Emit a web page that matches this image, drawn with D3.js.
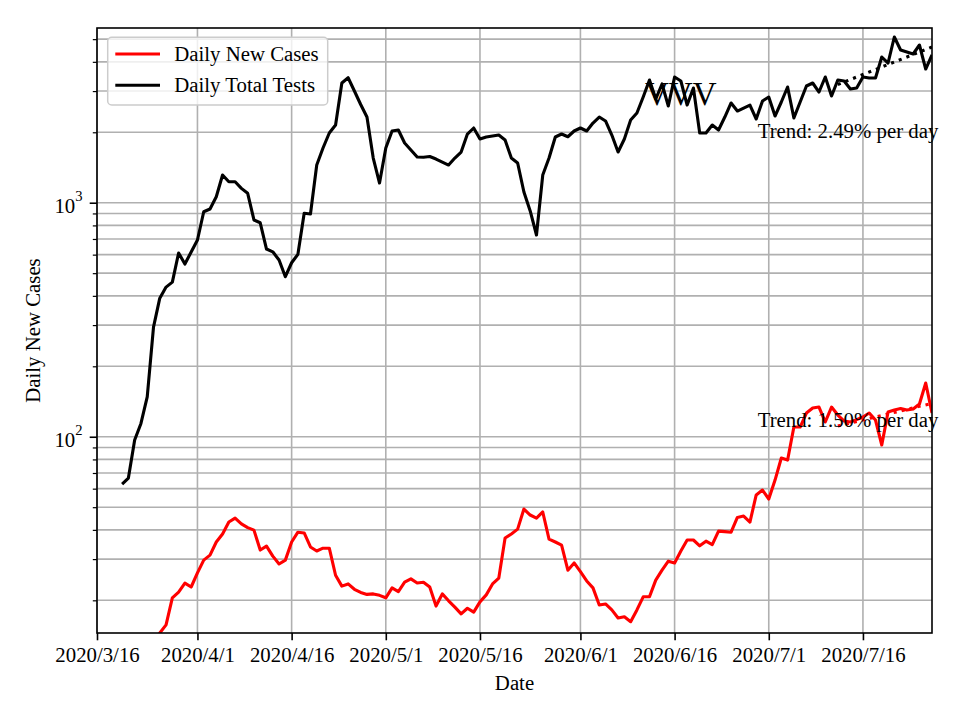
<!DOCTYPE html>
<html><head><meta charset="utf-8">
<script src="https://cdn.jsdelivr.net/npm/d3@7"></script>
<style>
body{margin:0;background:#fff}
svg{display:block}
text{font-family:"Liberation Serif","Times New Roman",Times,serif;fill:#000}
</style>
</head><body>
<svg id="chart" width="960" height="720"></svg>
<script>
// ---------- DATA ----------
const xDomain = ["2020-03-16", "2020-07-27"];
const xTickDates = ["2020-03-16","2020-04-01","2020-04-16","2020-05-01","2020-05-16","2020-06-01","2020-06-16","2020-07-01","2020-07-16"];
const xTickLabels = ["2020/3/16","2020/4/1","2020/4/16","2020/5/1","2020/5/16","2020/6/1","2020/6/16","2020/7/1","2020/7/16"];
const yDomain = [14.5, 5580];
const yMajorTicks = [100, 1000];
const yMajorBase = ["10", "10"];
const yMajorExp = ["2", "3"];
const yMinorTicks = [20,30,40,50,60,70,80,90,200,300,400,500,600,700,800,900,2000,3000,4000,5000];

const testsStart = "2020-03-20";
const dailyTests = [62.8,66.6,96.8,114,148,294,391,436,458,610,
547,616,693,915,940,1061,1313,1229,1229,1152,
1097,844,821,634,617,569,483,554,602,901,
895,1449,1713,1986,2148,3248,3421,3002,2628,2324,
1552,1214,1713,2025,2045,1799,1680,1568,1565,1575,
1537,1492,1449,1552,1647,1966,2086,1872,1909,1928,
1947,1854,1552,1478,1111,922,728,1313,1552,1909,
1966,1914,2025,2086,2025,2191,2324,2235,1947,1647,
1872,2257,2417,2829,3345,2775,3217,2590,3445,3312,
2615,3091,1986,1986,2148,2045,2324,2668,2465,2539,
2615,2279,2720,2829,2347,2694,3122,2301,2694,3153,
3248,2972,3445,2858,3345,3312,3061,3091,3445,3411,
3411,4195,3954,5107,4494,4406,4320,4720,3727,4278];

const casesStart = "2020-03-25";
const dailyCases = [12.3,
14.5,15.7,20.5,21.7,23.7,22.8,26.2,29.7,31.2,35.5,
38.4,43.2,44.9,42.4,40.9,39.9,32.8,34.1,30.9,28.6,
29.7,35.5,39.1,38.8,33.8,32.5,33.4,33.4,25.6,23.0,
23.5,22.3,21.6,21.2,21.3,21.0,20.5,22.6,21.8,23.9,
24.7,23.7,23.9,22.8,18.9,21.3,19.9,18.7,17.5,18.5,
17.8,19.7,21.1,23.5,24.9,36.9,38.4,40.3,49.1,46.3,
44.9,47.7,36.5,35.5,34.4,26.9,28.9,26.5,24.2,22.6,
19.1,19.3,18.2,16.8,17.0,16.2,18.2,20.7,20.7,24.4,
26.9,29.4,28.9,32.5,36.2,36.2,34.2,35.8,34.6,39.5,
39.3,39.1,45.2,45.8,43.2,56.4,59.2,54.2,65.3,81.1,
79.5,110,110,126.3,132.7,133.9,115.6,133.9,123.8,116.7,
115.6,118.4,121.4,126.3,117.8,92.2,127.5,130.0,132.0,130.0,
131.3,138.0,169.6,126.3];

const trendDates = ["2020-07-12", "2020-07-27"];
const trendTests = [3200, 4629];
const trendCases = [111.1, 138.9];
const trendLabels = ["Trend: 2.49% per day", "Trend: 1.50% per day"];

const seriesNames = ["Daily New Cases", "Daily Total Tests"];
const seriesColors = ["#ff0000", "#000000"];

// ---------- CHART ----------
const FS = 20.8;
const parse = d3.utcParse("%Y-%m-%d");
const L = 97, R = 932, T = 28, B = 633;
const svg = d3.select("#chart");

const x = d3.scaleUtc().domain(xDomain.map(parse)).range([L, R]);
const y = d3.scaleLog().domain(yDomain).range([B, T]);

function toSeries(start, vals) {
  const s = parse(start);
  return vals.map((v, i) => ({date: d3.utcDay.offset(s, i), v}));
}
const testsData = toSeries(testsStart, dailyTests);
const casesData = toSeries(casesStart, dailyCases);

svg.append("defs").append("clipPath").attr("id", "clip")
  .append("rect").attr("x", L).attr("y", T).attr("width", R - L).attr("height", B - T);

// grid
const grid = svg.append("g").attr("stroke", "#b0b0b0").attr("stroke-width", 1.6);
grid.selectAll("line.gx").data(xTickDates.map(parse)).join("line")
  .attr("x1", d => x(d)).attr("x2", d => x(d)).attr("y1", T).attr("y2", B);
grid.selectAll("line.gy").data(yMajorTicks.concat(yMinorTicks)).join("line")
  .attr("class", "gy")
  .attr("x1", L).attr("x2", R).attr("y1", d => y(d)).attr("y2", d => y(d));

// lines
const line = d3.line().x(d => x(d.date)).y(d => y(d.v));
const plot = svg.append("g").attr("clip-path", "url(#clip)");
plot.append("path").datum(casesData).attr("d", line)
  .attr("fill", "none").attr("stroke", seriesColors[0]).attr("stroke-width", 3.1).attr("stroke-linejoin", "round");
plot.append("path").datum(testsData).attr("d", line)
  .attr("fill", "none").attr("stroke", seriesColors[1]).attr("stroke-width", 3.1).attr("stroke-linejoin", "round");

// trend lines
const trendT = trendDates.map((d, i) => ({date: parse(d), v: trendTests[i]}));
const trendC = trendDates.map((d, i) => ({date: parse(d), v: trendCases[i]}));
plot.append("path").datum(trendT).attr("d", line)
  .attr("fill", "none").attr("stroke", seriesColors[1]).attr("stroke-width", 3.1).attr("stroke-dasharray", "3.1,5.1");
plot.append("path").datum(trendC).attr("d", line)
  .attr("fill", "none").attr("stroke", seriesColors[0]).attr("stroke-width", 3.1).attr("stroke-dasharray", "3.1,5.1");

// spines
svg.append("rect").attr("x", L).attr("y", T).attr("width", R - L).attr("height", B - T)
  .attr("fill", "none").attr("stroke", "#000").attr("stroke-width", 1.6);

// x axis
const xAxis = d3.axisBottom(x).tickValues(xTickDates.map(parse))
  .tickFormat((d, i) => xTickLabels[i]).tickSize(7.3).tickPadding(7).tickSizeOuter(0);
const gx = svg.append("g").attr("transform", `translate(0,${B})`).call(xAxis);
gx.select(".domain").remove();
gx.selectAll("line").attr("stroke", "#000").attr("stroke-width", 1.6);
gx.selectAll("text").attr("font-size", FS).attr("font-family", null);

// y axis ticks
const gyMinor = svg.append("g").attr("transform", `translate(${L},0)`)
  .call(d3.axisLeft(y).tickValues(yMinorTicks).tickFormat("").tickSize(4.2).tickSizeOuter(0));
gyMinor.select(".domain").remove();
gyMinor.selectAll("line").attr("stroke", "#000").attr("stroke-width", 1.2);
const gyMajor = svg.append("g").attr("transform", `translate(${L},0)`)
  .call(d3.axisLeft(y).tickValues(yMajorTicks).tickFormat("").tickSize(7.3).tickSizeOuter(0));
gyMajor.select(".domain").remove();
gyMajor.selectAll("line").attr("stroke", "#000").attr("stroke-width", 1.6);

const ylab = svg.append("g").selectAll("text").data(yMajorTicks).join("text")
  .attr("x", L - 14.5).attr("y", d => y(d) + 10).attr("text-anchor", "end").attr("font-size", FS);
ylab.text((d, i) => yMajorBase[i]);
ylab.append("tspan").attr("dy", -12).attr("font-size", 14.6).text((d, i) => yMajorExp[i]);

// axis titles
svg.append("text").attr("x", (L + R) / 2).attr("y", 690).attr("text-anchor", "middle")
  .attr("font-size", FS).text("Date");
svg.append("text").attr("transform", `translate(40,${(T + B) / 2}) rotate(-90)`)
  .attr("text-anchor", "middle").attr("font-size", FS).text("Daily New Cases");

// annotations
svg.append("text").attr("x", 757.7).attr("y", 138).attr("font-size", FS).text(trendLabels[0]);
svg.append("text").attr("x", 757.7).attr("y", 426.7).attr("font-size", FS).text(trendLabels[1]);
svg.append("text").attr("x", 645).attr("y", 105).attr("font-size", 33).text("VVV");

// legend
const lg = svg.append("g");
lg.append("rect").attr("x", 107.7).attr("y", 37.3).attr("width", 220).attr("height", 67.7)
  .attr("rx", 4).attr("fill", "#fff").attr("fill-opacity", 0.8)
  .attr("stroke", "#cccccc").attr("stroke-width", 1.5);
const lgY = [54, 85.3];
seriesNames.forEach((n, i) => {
  lg.append("line").attr("x1", 115.3).attr("x2", 160).attr("y1", lgY[i]).attr("y2", lgY[i])
    .attr("stroke", seriesColors[i]).attr("stroke-width", 3.1);
  lg.append("text").attr("x", 174.3).attr("y", lgY[i] + 7).attr("font-size", FS).text(n);
});
</script>
</body></html>
